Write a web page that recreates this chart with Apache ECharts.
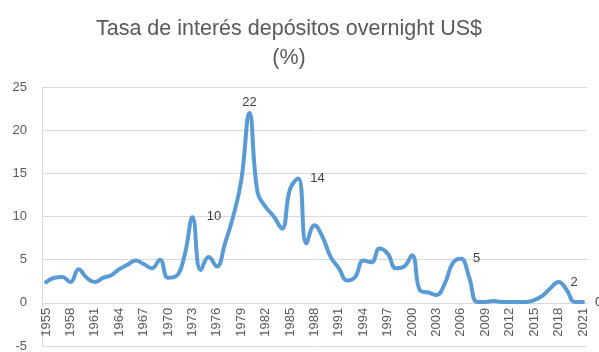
<!DOCTYPE html>
<html>
<head>
<meta charset="utf-8">
<script src="https://cdn.jsdelivr.net/npm/echarts@6/dist/echarts.min.js"></script>
<style>
  html, body { margin: 0; padding: 0; background: #ffffff; }
  #chart { width: 599px; height: 352px; }
</style>
</head>
<body>
<div id="chart"></div>
<script>
// Annual overnight deposit rate for US$ deposits, percent
const years = [
  '1955','1956','1957','1958','1959','1960','1961','1962','1963','1964',
  '1965','1966','1967','1968','1969','1970','1971','1972','1973','1974',
  '1975','1976','1977','1978','1979','1980','1981','1982','1983','1984',
  '1985','1986','1987','1988','1989','1990','1991','1992','1993','1994',
  '1995','1996','1997','1998','1999','2000','2001','2002','2003','2004',
  '2005','2006','2007','2008','2009','2010','2011','2012','2013','2014',
  '2015','2016','2017','2018','2019','2020','2021'
];
const rates = [
  2.4, 2.9, 3.0, 2.4, 3.9, 2.9, 2.4, 2.9, 3.2, 3.9,
  4.4, 4.9, 4.5, 4.0, 5.0, 2.9, 3.1, 5.4, 9.9, 3.8,
  5.3, 4.2, 6.9, 10.0, 14.2, 22.0, 12.8, 11.1, 10.0, 8.6,
  13.2, 14.4, 6.9, 9.0, 7.6, 5.3, 4.0, 2.6, 3.0, 4.9,
  4.7, 6.3, 5.7, 4.0, 4.2, 5.5, 1.4, 1.2, 0.9, 2.2,
  4.6, 5.1, 3.0, 0.1, 0.1, 0.2, 0.1, 0.1, 0.1, 0.1,
  0.3, 0.8, 1.7, 2.4, 1.5, 0.1, 0.1
];
const yTicks = { min: -5, max: 25, step: 5 };
// Years whose value is printed next to the line
const labeledYears = ['1978', '1980', '1986', '2006', '2018', '2021'];

// Where each printed value sits relative to its point
const labelSide = { '1978': 'left', '1980': 'top', '1986': 'right', '2006': 'right', '2018': 'right', '2021': 'right' };

const FONT = 'Liberation Sans, Arial, sans-serif';
const GRID = { left: 42, right: 12, top: 87, bottom: 6 };
const CHART_H = 352;

// The year axis sits on the zero line: lift it from the grid bottom by the height of (0 - min)
const plotH = CHART_H - GRID.top - GRID.bottom;
const zeroLift = plotH * (0 - yTicks.min) / (yTicks.max - yTicks.min);

const seriesData = rates.map((v, i) => {
  const y = years[i];
  if (labeledYears.indexOf(y) < 0) return v;
  const side = labelSide[y];
  return {
    value: v,
    label: {
      show: true,
      position: side,
      distance: side === 'top' ? 4 : 12
    }
  };
});

const chart = echarts.init(document.getElementById('chart'), null, { renderer: 'canvas' });
chart.setOption({
  animation: false,
  backgroundColor: '#ffffff',
  title: {
    text: 'Tasa de interés depósitos overnight US$\n(%)',
    left: 284,
    top: 10,
    textAlign: 'center',
    textStyle: {
      fontFamily: FONT,
      fontSize: 21.5,
      fontWeight: 'normal',
      color: '#595959',
      lineHeight: 29
    }
  },
  grid: Object.assign({ containLabel: false, outerBoundsMode: 'none' }, GRID),
  xAxis: {
    type: 'category',
    data: years,
    boundaryGap: true,
    position: 'bottom',
    offset: -zeroLift,
    axisLine: { show: true, onZero: false, lineStyle: { color: '#d9d9d9', width: 1 } },
    axisTick: { show: false },
    axisLabel: {
      interval: 2,
      rotate: 90,
      margin: 5,
      fontFamily: FONT,
      fontSize: 13,
      color: '#595959'
    },
    splitLine: { show: false }
  },
  yAxis: {
    type: 'value',
    min: yTicks.min,
    max: yTicks.max,
    interval: yTicks.step,
    axisLine: { show: true, lineStyle: { color: '#d9d9d9', width: 1 } },
    axisTick: { show: false },
    axisLabel: {
      margin: 15,
      fontFamily: FONT,
      fontSize: 13,
      color: '#595959'
    },
    splitLine: { show: true, lineStyle: { color: '#d9d9d9', width: 1 } }
  },
  series: [{
    type: 'line',
    data: seriesData,
    smooth: 0.45,
    showSymbol: true,
    symbol: 'circle',
    symbolSize: 0,
    lineStyle: { color: '#5b9bd5', width: 4, cap: 'round', join: 'round' },
    itemStyle: { color: '#5b9bd5' },
    label: {
      show: false,
      fontFamily: FONT,
      fontSize: 13,
      color: '#404040',
      formatter: p => String(Math.round(p.value))
    }
  }]
});
</script>
</body>
</html>
